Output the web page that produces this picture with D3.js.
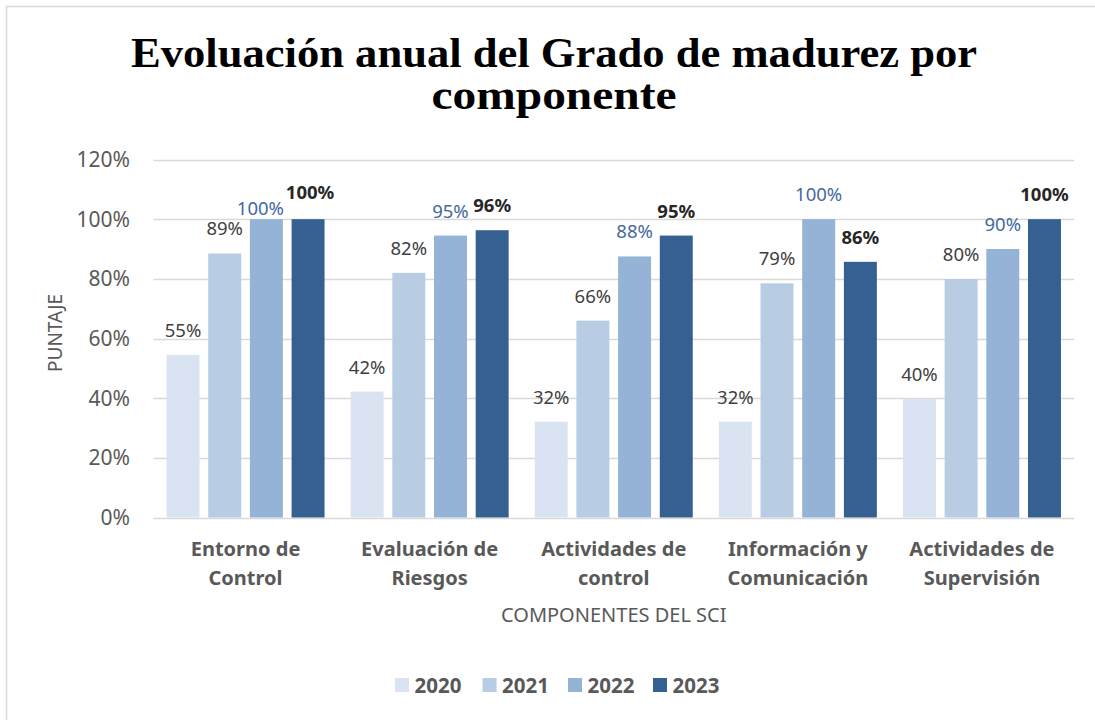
<!DOCTYPE html>
<html>
<head>
<meta charset="utf-8">
<script src="https://cdn.jsdelivr.net/npm/d3@7"></script>
<style>
  html, body { margin: 0; padding: 0; background: #ffffff; }
  svg { display: block; }
</style>
</head>
<body>
<svg id="chart" width="1095" height="720"></svg>
<script>
// ---- data ----
const categories = [
  ["Entorno de", "Control"],
  ["Evaluación de", "Riesgos"],
  ["Actividades de", "control"],
  ["Información y", "Comunicación"],
  ["Actividades de", "Supervisión"]
];
const years = ["2020", "2021", "2022", "2023"];
const values2020 = [54.5, 42.2, 32.1, 32.1, 39.8];
const values2021 = [88.5, 82.0, 66.0, 78.5, 79.9];
const values2022 = [100, 94.5, 87.5, 100, 90.0];
const values2023 = [100, 96.3, 94.5, 85.7, 100];
const yTicks = [0, 20, 40, 60, 80, 100, 120];
const titleLines = ["Evoluación anual del Grado de madurez por", "componente"];
const yAxisTitle = "PUNTAJE";
const xAxisTitle = "COMPONENTES DEL SCI";

const seriesValues = [values2020, values2021, values2022, values2023];
const colors = ["#DAE3F1", "#B8CCE4", "#95B3D7", "#376092"];
const labelColors = ["#404040", "#404040", "#44699E", "#262626"];
const labelWeights = ["normal", "normal", "normal", "bold"];

const svg = d3.select("#chart");
const font = "'Noto Sans', 'Open Sans', sans-serif";

// frame (only top/left edges visible in reference)
svg.append("rect").attr("x", 6.5).attr("y", 6.5).attr("width", 1200).attr("height", 800)
  .attr("fill", "#fff").attr("stroke", "#D9D9D9").attr("stroke-width", 1.5);

// ---- scales ----
const catKeys = categories.map(c => c.join(" "));
const x0 = d3.scaleBand().domain(catKeys).range([153.5, 1074]).paddingInner(0).paddingOuter(0);
const x1 = d3.scaleBand().domain(years).range([0, x0.bandwidth()]).paddingInner(0.209).paddingOuter(0.313);
const y = d3.scaleLinear().domain([0, 120]).range([517.5, 159.5]);

// gridlines
const grid = svg.append("g");
grid.selectAll("line").data(yTicks).join("line")
  .attr("x1", 153.5).attr("x2", 1074)
  .attr("y1", d => Math.round(y(d)) + 0.5).attr("y2", d => Math.round(y(d)) + 0.5)
  .attr("stroke", "#D9D9D9").attr("stroke-width", 1.5);

// y axis labels via d3 axis
const yAxis = d3.axisLeft(y).tickValues(yTicks).tickFormat(d => d + "%").tickSize(0).tickPadding(0);
const yg = svg.append("g").attr("transform", "translate(130,0)").call(yAxis);
yg.select(".domain").remove();
yg.selectAll("text").attr("font-family", font).attr("font-size", 21).attr("fill", "#595959").attr("dy", "0.34em");

// bars
const groups = svg.append("g").selectAll("g").data(catKeys).join("g")
  .attr("transform", d => `translate(${x0(d)},0)`);

groups.each(function(cat, ci) {
  const g = d3.select(this);
  years.forEach((yr, si) => {
    const v = seriesValues[si][ci];
    g.append("rect")
      .attr("x", x1(yr)).attr("width", x1.bandwidth())
      .attr("y", y(v)).attr("height", y(0) - y(v))
      .attr("fill", colors[si]);
  });
});

// data labels
const nudges = { "0|2022": [-6, 14], "0|2023": [2, -2] };
const fmt = d3.format(".0f");
groups.each(function(cat, ci) {
  const g = d3.select(this);
  years.forEach((yr, si) => {
    const v = seriesValues[si][ci];
    const n = nudges[ci + "|" + yr] || [0, 0];
    g.append("text")
      .attr("x", x1(yr) + x1.bandwidth() / 2 + n[0])
      .attr("y", y(v) - 18 + n[1])
      .attr("text-anchor", "middle")
      .attr("font-family", font).attr("font-size", 18.5)
      .attr("font-weight", labelWeights[si])
      .attr("fill", labelColors[si])
      .text(fmt(v) + "%");
  });
});

// x category labels
const xg = svg.append("g");
catKeys.forEach((k, ci) => {
  const t = xg.append("text")
    .attr("x", x0(k) + x0.bandwidth() / 2)
    .attr("text-anchor", "middle")
    .attr("font-family", font).attr("font-size", 20).attr("font-weight", "bold")
    .attr("fill", "#595959");
  categories[ci].forEach((line, li) => {
    t.append("tspan").attr("x", x0(k) + x0.bandwidth() / 2).attr("y", 555.5 + li * 29.5).text(line);
  });
});

// axis titles
svg.append("text").attr("x", (153.5 + 1074) / 2).attr("y", 622)
  .attr("text-anchor", "middle").attr("font-family", font).attr("font-size", 20)
  .attr("fill", "#595959").text(xAxisTitle);
svg.append("text").attr("transform", "translate(62,333) rotate(-90)")
  .attr("text-anchor", "middle").attr("font-family", font).attr("font-size", 19)
  .attr("fill", "#595959").text(yAxisTitle);

// title (widths fitted to the reference's condensed serif)
const titleWidths = [846, 245];
const tg = svg.append("g");
titleLines.forEach((line, i) => {
  tg.append("text")
    .attr("x", 554).attr("y", 67 + i * 41.5)
    .attr("text-anchor", "middle")
    .attr("font-family", "'Liberation Serif', 'DejaVu Serif', serif")
    .attr("font-size", 42).attr("font-weight", "bold").attr("fill", "#000")
    .attr("textLength", titleWidths[i]).attr("lengthAdjust", "spacingAndGlyphs")
    .text(line);
});

// legend
const lg = svg.append("g");
const legendX = [395, 482.5, 568, 653];
years.forEach((yr, i) => {
  lg.append("rect").attr("x", legendX[i]).attr("y", 678).attr("width", 14).attr("height", 14).attr("fill", colors[i]);
  lg.append("text").attr("x", legendX[i] + 19.5).attr("y", 692.5)
    .attr("font-family", font).attr("font-size", 20.5).attr("font-weight", "bold")
    .attr("fill", "#595959").text(yr);
});
</script>
</body>
</html>
